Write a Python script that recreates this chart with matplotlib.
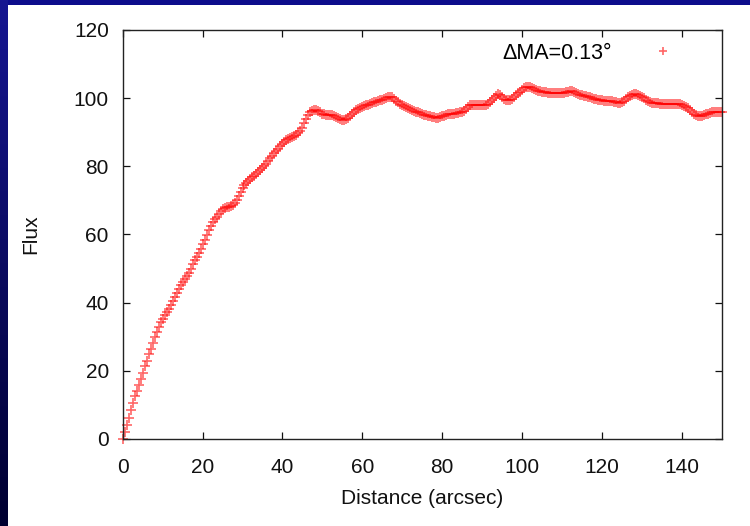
import numpy as np
import matplotlib
matplotlib.use("Agg")
import matplotlib.pyplot as plt
from matplotlib.patches import Rectangle
from matplotlib.colors import LinearSegmentedColormap

plt.rcParams['font.family'] = ['Liberation Sans', 'DejaVu Sans']

# Distance (arcsec), sampled every 0.5 arcsec from 0 to 150
distance = np.arange(0, 150.01, 0.5)

flux = [
    0.0, 2.1, 4.2, 6.3, 8.4, 10.6, 12.5, 14.2, 15.9, 17.7,
    19.5, 21.3, 23.0, 24.8, 26.5, 28.3, 30.0, 31.5, 33.0, 34.4,
    35.3, 36.3, 37.3, 38.2, 39.2, 40.4, 41.6, 42.8, 44.0, 45.1,
    46.0, 47.0, 47.9, 48.8, 49.8, 51.2, 52.4, 53.5, 54.6, 55.8,
    57.1, 58.5, 59.8, 61.2, 62.5, 63.6, 64.5, 65.2, 66.0, 66.8,
    67.4, 67.8, 68.0, 68.2, 68.4, 68.7, 69.2, 70.1, 71.2, 72.4,
    73.6, 74.5, 75.2, 75.8, 76.4, 76.9, 77.3, 77.8, 78.4, 79.0,
    79.6, 80.2, 80.8, 81.5, 82.3, 83.1, 83.8, 84.5, 85.2, 85.9,
    86.6, 87.2, 87.6, 88.0, 88.3, 88.6, 88.9, 89.3, 89.7, 90.3,
    91.3, 92.6, 93.9, 95.0, 95.8, 96.3, 96.6, 96.6, 96.2, 95.8,
    95.5, 95.3, 95.2, 95.1, 95.1, 95.1, 94.9, 94.6, 94.2, 93.8,
    93.6, 93.7, 94.0, 94.3, 94.7, 95.3, 95.9, 96.4, 96.8, 97.1,
    97.4, 97.6, 97.9, 98.1, 98.3, 98.6, 98.8, 99.0, 99.2, 99.4,
    99.6, 99.8, 100.0, 100.3, 100.4, 100.2, 99.8, 99.3, 98.8, 98.3,
    97.9, 97.7, 97.5, 97.2, 96.9, 96.6, 96.3, 96.0, 95.8, 95.6,
    95.4, 95.2, 95.0, 94.9, 94.7, 94.5, 94.4, 94.3, 94.3, 94.5,
    94.7, 94.9, 95.1, 95.3, 95.4, 95.5, 95.5, 95.6, 95.7, 95.8,
    95.9, 96.3, 96.9, 97.5, 97.9, 98.0, 98.0, 98.0, 98.0, 98.0,
    98.0, 98.0, 98.0, 98.2, 98.8, 99.5, 100.1, 100.7, 101.1, 100.8,
    100.3, 99.9, 99.6, 99.5, 99.5, 99.8, 100.4, 101.0, 101.5, 101.9,
    102.4, 102.9, 103.2, 103.4, 103.4, 103.1, 102.7, 102.4, 102.2, 102.0,
    101.9, 101.8, 101.7, 101.6, 101.6, 101.5, 101.5, 101.4, 101.4, 101.4,
    101.4, 101.5, 101.7, 101.9, 102.2, 102.2, 101.9, 101.5, 101.1, 100.9,
    100.8, 100.7, 100.6, 100.4, 100.2, 100.0, 99.8, 99.7, 99.6, 99.5,
    99.4, 99.3, 99.3, 99.3, 99.2, 99.1, 99.0, 98.8, 98.6, 98.5,
    98.8, 99.3, 99.7, 100.2, 100.6, 101.0, 101.2, 101.2, 101.0, 100.7,
    100.4, 100.1, 99.6, 99.2, 98.8, 98.6, 98.5, 98.5, 98.5, 98.4,
    98.4, 98.4, 98.4, 98.4, 98.3, 98.3, 98.3, 98.3, 98.3, 98.2,
    98.1, 97.8, 97.4, 97.0, 96.5, 96.0, 95.5, 95.1, 94.8, 94.7,
    94.8, 95.0, 95.3, 95.5, 95.7, 95.9, 96.0, 96.0, 96.0, 95.9,
    95.8,
]

x_ticks = [0, 20, 40, 60, 80, 100, 120, 140]
y_ticks = [0, 20, 40, 60, 80, 100, 120]
legend_label = "\u0394MA=0.13\u00b0"

fig = plt.figure(figsize=(7.5, 5.26), dpi=100)
fig.patch.set_facecolor('white')

# slide-style blue frame: top band and left gradient band
fig.patches.append(Rectangle((0, 1 - 5 / 526), 1, 5 / 526, transform=fig.transFigure,
                             facecolor='#0d0d8c', edgecolor='none', zorder=-5))
grad = np.linspace(0, 1, 256).reshape(-1, 1)
cmap = LinearSegmentedColormap.from_list('frame', ['#161692', '#000030'])
axb = fig.add_axes([0, 0, 7 / 750, 1])
axb.imshow(grad, aspect='auto', cmap=cmap, extent=[0, 1, 0, 1])
axb.set_axis_off()

ax = fig.add_axes([122.7 / 750, (526 - 439) / 526, (721.7 - 122.7) / 750, (439 - 30) / 526])
ax.plot(distance, flux, linestyle='none', marker='+', color='#ff0000',
        markersize=6.5, markeredgewidth=1.2, alpha=0.6, label=legend_label,
        clip_on=False)

ax.set_xlim(0, 150)
ax.set_ylim(0, 120)
ax.set_xticks(x_ticks)
ax.set_yticks(y_ticks)
ax.tick_params(direction='in', top=True, right=True, length=5, width=0.9,
               labelsize=15, colors='#111111')
ax.tick_params(axis='y', pad=10)
ax.tick_params(axis='x', pad=14)
for s in ax.spines.values():
    s.set_linewidth(1.0)
    s.set_color('#222222')

ax.set_xlabel('Distance (arcsec)', fontsize=15, color='#111111', labelpad=8)
ax.set_ylabel('Flux', fontsize=15, color='#111111', labelpad=24)

leg = ax.legend(loc='upper right', frameon=False, markerfirst=False, fontsize=15.5,
                handlelength=3.0, handletextpad=0.9, borderaxespad=0.2,
                bbox_to_anchor=(0.978, 1.0), markerscale=0.8)

fig.savefig('out.png', dpi=100)
